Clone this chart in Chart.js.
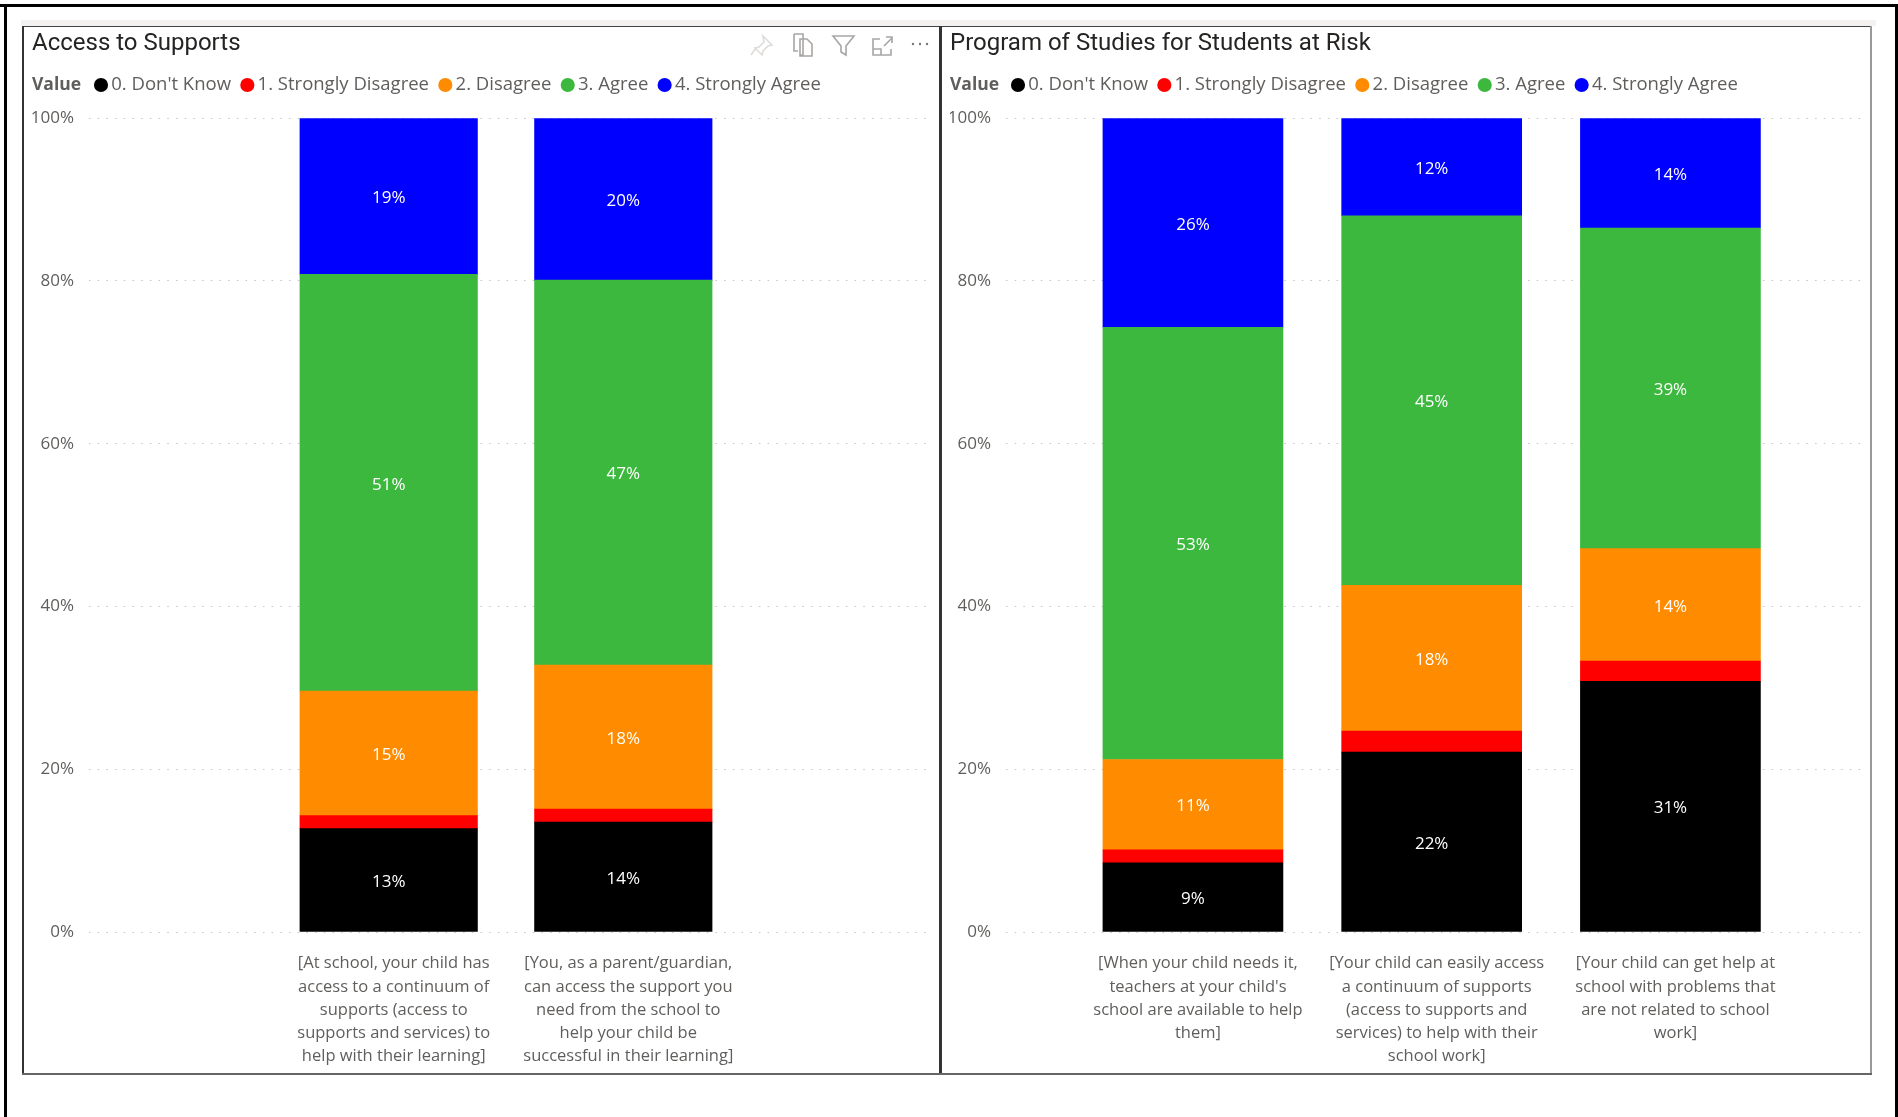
<!DOCTYPE html>
<html>
<head>
<meta charset="utf-8">
<script src="https://cdn.jsdelivr.net/npm/chart.js@4/dist/chart.umd.min.js"></script>
<style>
html,body{margin:0;padding:0;background:#fff;width:1898px;height:1117px;overflow:hidden}
.abs{position:absolute}
canvas{display:block}
</style>
</head>
<body>
<div class="abs" style="left:0;top:4px;width:1898px;height:3px;background:#000"></div>
<div class="abs" style="left:4px;top:4px;width:3px;height:1113px;background:#000"></div>
<div class="abs" style="left:1895px;top:4px;width:3px;height:1113px;background:#000"></div>
<div class="abs" style="left:21px;top:20px;width:1855px;height:6px;background:#f3f2f1"></div>
<div class="abs" style="left:22px;top:26px;width:1849px;height:1px;background:#444"></div>
<div class="abs" style="left:22px;top:26px;width:2px;height:1049px;background:#333"></div>
<div class="abs" style="left:939px;top:26px;width:3px;height:1049px;background:#333"></div>
<div class="abs" style="left:1870px;top:26px;width:2px;height:1049px;background:#999"></div>
<div class="abs" style="left:22px;top:1073px;width:1850px;height:2px;background:#666"></div>
<div class="abs" style="left:24px;top:27px;width:915px;height:1046px"><canvas id="c1" width="915" height="1046"></canvas></div>
<div class="abs" style="left:942px;top:27px;width:928px;height:1046px"><canvas id="c2" width="928" height="1046"></canvas></div>
<svg class="abs" style="left:745px;top:28px" width="195" height="32" viewBox="0 0 195 32" fill="none" stroke="#a8a6a4" stroke-width="1.6">
  <path d="M18 8 l9 9 -4 1 -5 5 -1 4 -7 -7 4 -1 5 -5z M11 20 l-5 7" stroke="#dedcda"/>
  <path d="M49 6 h9 l0 21 h-3 M49 6 v17 h4 M55 11 h7 l5 5 v12 h-12z"/>
  <path d="M88 8 h21 l-8 10 v9 l-5 -3 v-6z"/>
  <path d="M135 11 h-7 v16 h18 v-6 M128 21 h8 v6 M139 18 l8 -8 M141 9 h6 v6"/>
  <circle cx="168" cy="16" r="1.2" fill="#777" stroke="none"/><circle cx="175" cy="16" r="1.2" fill="#777" stroke="none"/><circle cx="182" cy="16" r="1.2" fill="#777" stroke="none"/>
</svg>
<script>
const seriesNames = ["0. Don't Know", "1. Strongly Disagree", "2. Disagree", "3. Agree", "4. Strongly Agree"];
const seriesColors = ["#000000", "#ff0000", "#ff8c00", "#3cb83e", "#0000ff"];
const yTicks = [0, 20, 40, 60, 80, 100];

const title1 = "Access to Supports";
const categories1 = [
  ["[At school, your child has", "access to a continuum of", "supports (access to", "supports and services) to", "help with their learning]"],
  ["[You, as a parent/guardian,", "can access the support you", "need from the school to", "help your child be", "successful in their learning]"]
];
const dontKnow1 = [12.7, 13.5];
const stronglyDisagree1 = [1.6, 1.6];
const disagree1 = [15.3, 17.7];
const agree1 = [51.2, 47.3];
const stronglyAgree1 = [19.2, 19.9];

const title2 = "Program of Studies for Students at Risk";
const categories2 = [
  ["[When your child needs it,", "teachers at your child's", "school are available to help", "them]"],
  ["[Your child can easily access", "a continuum of supports", "(access to supports and", "services) to help with their", "school work]"],
  ["[Your child can get help at", "school with problems that", "are not related to school", "work]"]
];
const dontKnow2 = [8.5, 22.1, 30.8];
const stronglyDisagree2 = [1.6, 2.6, 2.5];
const disagree2 = [11.1, 17.9, 13.8];
const agree2 = [53.1, 45.4, 39.4];
const stronglyAgree2 = [25.7, 12.0, 13.5];

const BODY = '"Open Sans", sans-serif';
const TITLE = 'Roboto, sans-serif';
const GREY = '#605e5c';

function panelPlugin(legendLeft) {
  return {
    id: 'panel',
    afterLayout(chart) {
      chart.legend.left = legendLeft;
      chart.legend.top -= 13.9;
    },
    afterDraw(chart) {
      const ctx = chart.ctx;
      ctx.save();
      ctx.font = 'bold 17.5px ' + BODY;
      ctx.fillStyle = GREY;
      ctx.textBaseline = 'middle';
      ctx.textAlign = 'left';
      ctx.fillText('Value', 8, 58);
      ctx.restore();
    },
    afterDatasetsDraw(chart) {
      const ctx = chart.ctx;
      ctx.save();
      ctx.font = '17px ' + BODY;
      ctx.fillStyle = '#ffffff';
      ctx.textAlign = 'center';
      ctx.textBaseline = 'middle';
      chart.data.datasets.forEach((ds, d) => {
        if (d === 1) return;
        chart.getDatasetMeta(d).data.forEach((bar, i) => {
          const c = bar.getCenterPoint();
          ctx.fillText(Math.round(ds.data[i].y) + '%', c.x, c.y + 2);
        });
      });
      ctx.restore();
    }
  };
}

function makeChart(id, title, categories, values, xMin, xMax, barWidth, labelShift, padRight, yWidth, legendLeft) {
  return new Chart(document.getElementById(id), {
    type: 'bar',
    data: {
      datasets: seriesNames.map((name, s) => ({
        label: name,
        data: values[s].map((v, i) => ({ x: i, y: v })),
        backgroundColor: seriesColors[s],
        borderWidth: 0,
        barThickness: barWidth
      }))
    },
    plugins: [panelPlugin(legendLeft)],
    options: {
      responsive: false,
      animation: false,
      layout: { padding: { left: 8, right: padRight, top: 0, bottom: 0 } },
      plugins: {
        tooltip: { enabled: false },
        title: {
          display: true, text: title, align: 'start', color: '#252423',
          font: { family: TITLE, size: 24, weight: 'normal' },
          padding: { top: 3, bottom: 15.5 }
        },
        legend: {
          display: true, position: 'top', align: 'start',
          labels: {
            usePointStyle: true, pointStyle: 'circle', boxWidth: 2, boxHeight: 10,
            padding: 15.35, color: GREY,
            font: { family: BODY, size: 18.5 }
          }
        }
      },
      scales: {
        x: {
          type: 'linear', stacked: true, min: xMin, max: xMax, offset: false,
          grid: { display: false }, border: { display: false },
          afterBuildTicks(s) { s.ticks = categories.map((c, i) => ({ value: i + labelShift })); },
          afterFit(s) { s.height = 141; },
          ticks: {
            maxRotation: 0, minRotation: 0, autoSkip: false, padding: 12, color: GREY,
            font: { family: BODY, size: 16.5, lineHeight: '23.2px' },
            callback(v, i) { return categories[i]; }
          }
        },
        y: {
          type: 'linear', stacked: true, min: 0, max: 100,
          afterBuildTicks(s) { s.ticks = yTicks.map(v => ({ value: v })); },
          afterFit(s) { s.width = yWidth; },
          grid: { color: '#c8c6c4', lineWidth: 1, drawTicks: false },
          border: { display: false, dash: [1.5, 7.2] },
          ticks: { padding: 15, color: GREY, font: { family: BODY, size: 17 }, callback: v => v + '%' }
        }
      }
    }
  });
}

makeChart('c1', title1, categories1, [dontKnow1, stronglyDisagree1, disagree1, agree1, stronglyAgree1], -1.2775, 2.3116, 177.5, 0.0213, 8, 57, 60.65);
makeChart('c2', title2, categories2, [dontKnow2, stronglyDisagree2, disagree2, agree2, stronglyAgree2], -0.783, 2.815, 180, 0.021, 5, 56, 59.65);
</script>
</body>
</html>
